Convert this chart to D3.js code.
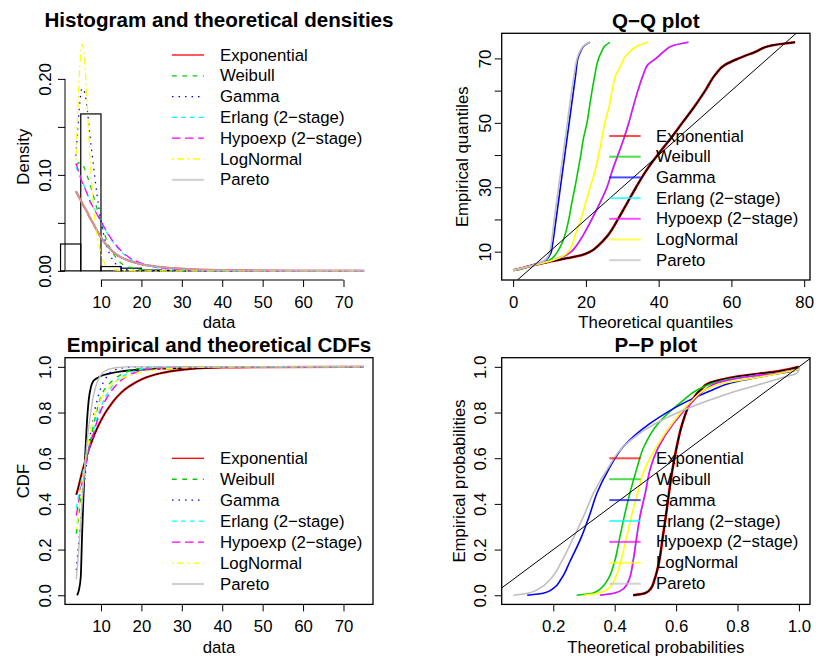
<!DOCTYPE html>
<html>
<head>
<meta charset="utf-8">
<script src="https://cdn.jsdelivr.net/npm/d3@7"></script>
<style>
body{margin:0;background:#fff}
</style>
</head>
<body>
<div id="chart"></div>
<script>
// distributions, in legend order
var names=["Exponential","Weibull","Gamma","Erlang (2\u2212stage)","Hypoexp (2\u2212stage)","LogNormal","Pareto"]
var colors=["#ff0000","#00cd00","#0000ff","#00ffff","#ff00ff","#ffff00","#bebebe"]
var dashes=[null,"4.7,5.6","1.5,5","4.8,4.1","8.5,4.5","2,3.3,7,3.3",null]

// histogram
var histBreaks=[0,5,10,15,20,25,30,35,40,45,50,55,60,65,70,75]
var histDens=[0.028,0.1635,0.0045,0.0028,0.0008,0.0004,0.0003,0.0002,0.0002,0.0001,0.0001,0.0001,0.0001,0.0001,0.0001]

// theoretical densities
var densX=[3.8,4.3,4.8,5.3,5.8,6.5,7.3,8,9,10,11,12,13.5,15,17,20,23,27,32,40,50,60,75]
var densExp=[0.083,0.079,0.075,0.071,0.067,0.062,0.055,0.05,0.042,0.035,0.029,0.024,0.018,0.014,0.0105,0.007,0.0048,0.003,0.0018,0.0009,0.0004,0.0002,0.0001]
var densWeib=[0.11,0.112,0.113,0.112,0.108,0.1,0.09,0.08,0.065,0.05,0.037,0.026,0.015,0.008,0.004,0.0012,0.0004,0.0001,0,0,0,0,0]
var densGamma=[0.12,0.15,0.177,0.19,0.188,0.172,0.14,0.115,0.08,0.052,0.032,0.019,0.008,0.003,0.001,0.0002,0,0,0,0,0,0,0]
var densErlang=[0.108,0.104,0.099,0.094,0.089,0.082,0.074,0.068,0.059,0.051,0.043,0.036,0.027,0.02,0.013,0.0075,0.004,0.0018,0.0006,0.0001,0,0,0]
var densHypo=[0.112,0.106,0.099,0.093,0.088,0.081,0.072,0.067,0.059,0.052,0.044,0.037,0.028,0.021,0.014,0.008,0.0043,0.002,0.0008,0.0002,0,0,0]
var densLnorm=[0.115,0.17,0.215,0.236,0.228,0.18,0.116,0.075,0.038,0.018,0.007,0.003,0.001,0.0005,0.0002,0.0001,0,0,0,0,0,0,0]
var densPareto=[0.083,0.079,0.075,0.071,0.067,0.062,0.055,0.05,0.042,0.035,0.029,0.024,0.018,0.014,0.0105,0.007,0.0048,0.003,0.0018,0.0009,0.0004,0.0002,0.0001]

// Q-Q: empirical quantiles and theoretical quantiles
var qqEmp=[4.2,5,6,7,8,9,10,12,15,20,25,30,35,40,45,50,55,60,65,68,70,72,74,75]
var qqExp=[0,3,6.2,10.5,15,19,21.2,23.5,26,28.8,31.3,33.8,36.5,39.7,43.2,46.5,49.8,52.8,55.6,58.2,62,66.5,71,77.5]
var qqWeib=[1,3.5,6.3,9.2,10.8,11.6,12.2,13.2,14.2,15.3,16.1,17,17.8,18.6,19.3,20.3,21,21.7,22.5,23,23.5,24.3,25.3,26.6]
var qqGamma=[0.5,3,6,8.5,9.5,10.1,10.5,10.8,11.2,11.8,12.4,13,13.6,14.2,14.8,15.4,16,16.6,17.2,17.5,17.8,18.5,19.6,21.1]
var qqErlang=[0,3,6.2,10,12.5,14.7,16,17.5,19.2,21.6,23.8,25.8,27.2,28.8,30.4,31.8,33,34.3,35.8,37,39.3,41.3,44,48.2]
var qqHypo=[0,3,6.2,10,12.5,14.7,16,17.5,19.2,21.6,23.8,25.8,27.2,28.8,30.4,31.8,33,34.3,35.8,37,39.3,41.3,44,48.2]
var qqLnorm=[0,3,6.3,10,12.5,14.2,15.2,16.2,17,18.6,19.9,21.2,22.5,23.5,24.4,25.2,26.4,27.2,28.3,29.7,30.5,32,34.5,37.1]
var qqPareto=[0.3,3,6,8.3,9.3,9.8,10.1,10.4,10.8,11.3,11.9,12.5,13.1,13.7,14.3,14.9,15.5,16.1,16.8,17.2,17.6,18.3,19.5,21.1]

// CDFs
var ecdfX=[4.1,4.5,5,5.3,5.6,6,6.5,7,7.5,8,9,10,12,15,20,25,30,40,75]
var ecdfY=[0,0.02,0.08,0.25,0.4,0.58,0.75,0.86,0.91,0.935,0.95,0.96,0.97,0.98,0.988,0.992,0.995,0.999,1]
var cdfX=[3.9,4.5,5,5.5,6,6.5,7,8,9,10,11,12,14,16,18,20,25,30,35,40,50,75]
var cdfExp=[0.44,0.479,0.516,0.55,0.581,0.61,0.638,0.687,0.729,0.765,0.797,0.824,0.869,0.902,0.926,0.945,0.973,0.987,0.994,0.997,0.999,1]
var cdfWeib=[0.27,0.35,0.42,0.48,0.54,0.59,0.64,0.73,0.81,0.87,0.905,0.925,0.955,0.975,0.988,0.994,0.999,1,1,1,1,1]
var cdfGamma=[0.11,0.23,0.32,0.42,0.51,0.59,0.66,0.77,0.85,0.91,0.945,0.97,0.99,0.997,1,1,1,1,1,1,1,1]
var cdfErlang=[0.38,0.44,0.49,0.535,0.575,0.615,0.65,0.715,0.775,0.825,0.865,0.895,0.94,0.965,0.98,0.99,0.998,1,1,1,1,1]
var cdfHypo=[0.35,0.41,0.46,0.51,0.555,0.595,0.635,0.7,0.76,0.81,0.85,0.88,0.925,0.955,0.972,0.983,0.995,0.999,1,1,1,1]
var cdfLnorm=[0.29,0.37,0.44,0.51,0.57,0.63,0.68,0.76,0.82,0.86,0.89,0.91,0.94,0.956,0.968,0.977,0.99,0.996,0.998,0.999,1,1]
var cdfPareto=[0.07,0.2,0.32,0.45,0.56,0.66,0.74,0.86,0.93,0.965,0.982,0.99,0.997,1,1,1,1,1,1,1,1,1]

// P-P: empirical probabilities and theoretical probabilities
var ppEmp=[0,0.01,0.03,0.07,0.15,0.25,0.35,0.45,0.55,0.65,0.75,0.85,0.9,0.93,0.95,0.96,0.97,0.98,0.99,1]
var ppExp=[0.46,0.5,0.518,0.53,0.545,0.556,0.567,0.577,0.588,0.602,0.62,0.65,0.68,0.71,0.77,0.81,0.87,0.93,0.97,1]
var ppWeib=[0.276,0.33,0.355,0.378,0.4,0.416,0.432,0.45,0.471,0.495,0.54,0.62,0.67,0.725,0.79,0.85,0.92,0.97,0.998,1]
var ppGamma=[0.115,0.17,0.2,0.225,0.255,0.29,0.318,0.343,0.38,0.428,0.513,0.637,0.72,0.78,0.85,0.89,0.93,0.97,0.998,1]
var ppErlang=[0.352,0.4,0.43,0.447,0.46,0.471,0.483,0.5,0.515,0.543,0.59,0.655,0.695,0.735,0.8,0.85,0.92,0.96,0.995,1]
var ppHypo=[0.352,0.4,0.43,0.447,0.46,0.471,0.483,0.5,0.515,0.543,0.59,0.655,0.695,0.735,0.8,0.85,0.92,0.96,0.995,1]
var ppLnorm=[0.3,0.35,0.38,0.4,0.42,0.438,0.455,0.475,0.497,0.536,0.586,0.65,0.695,0.76,0.85,0.89,0.93,0.965,0.998,1]
var ppPareto=[0.07,0.12,0.155,0.19,0.228,0.265,0.3,0.332,0.375,0.428,0.53,0.7,0.81,0.89,0.94,0.965,0.99,0.998,1,1]

var font='"Liberation Sans", Arial, Helvetica, sans-serif'
var fs=16.8
var tfs=20.6

var svg=d3.select("#chart").append("svg")
  .attr("width",819).attr("height",658)
  .style("font-family",font)

function zip(a,b){ return a.map(function(v,i){ return [v,b[i]] }) }

function bottomAxis(x,y0,vals,labs,withLine){
  var g=svg.append("g").attr("transform","translate(0,"+y0+")")
    .call(d3.axisBottom(x).tickValues(vals).tickSize(7).tickFormat(function(d,i){return labs[i]}))
  g.attr("font-size",fs).attr("font-family",font)
  g.select(".domain").remove()
  g.selectAll(".tick line").attr("stroke","#000")
  g.selectAll(".tick text").attr("y",22.5).attr("dy",null)
    .attr("dominant-baseline","central").attr("fill","#000")
  if(withLine){
    g.append("line").attr("x1",x(vals[0])).attr("x2",x(vals[vals.length-1]))
      .attr("stroke","#000")
  }
}

function leftAxis(y,x0,vals,labs,off,withLine){
  var g=svg.append("g").attr("transform","translate("+x0+",0)")
    .call(d3.axisLeft(y).tickValues(vals).tickSize(7).tickFormat(function(d,i){return labs[i]}))
  g.attr("font-size",fs).attr("font-family",font)
  g.select(".domain").remove()
  g.selectAll(".tick line").attr("stroke","#000")
  g.selectAll(".tick text").attr("x",null).attr("dy",null)
    .attr("transform","translate("+(-off)+",0) rotate(-90)")
    .attr("text-anchor","middle").attr("dominant-baseline","central").attr("fill","#000")
  if(withLine){
    g.append("line").attr("y1",y(vals[0])).attr("y2",y(vals[vals.length-1]))
      .attr("stroke","#000")
  }
}

function label(txt,x,y,size,bold,rot){
  var t=svg.append("text").attr("x",x).attr("y",y)
    .attr("text-anchor","middle").attr("dominant-baseline","central")
    .attr("font-size",size).text(txt)
  if(bold) t.attr("font-weight","bold")
  if(rot) t.attr("transform","rotate(-90,"+x+","+y+")")
}

function box(x0,y0,x1,y1){
  svg.append("rect").attr("x",x0).attr("y",y0).attr("width",x1-x0).attr("height",y1-y0)
    .attr("fill","none").attr("stroke","#000").attr("stroke-width",1.3)
}

function clip(id,x0,y0,x1,y1){
  svg.append("clipPath").attr("id",id).append("rect")
    .attr("x",x0).attr("y",y0).attr("width",x1-x0).attr("height",y1-y0)
}

function legend(lx1,lx2,tx,y0,step,styled){
  names.forEach(function(n,i){
    var y=y0+i*step
    var l=svg.append("line").attr("x1",lx1).attr("x2",lx2).attr("y1",y).attr("y2",y)
      .attr("stroke",colors[i])
    if(styled){
      l.attr("stroke-width",i==6?2:1.3)
      if(dashes[i]) l.attr("stroke-dasharray",dashes[i])
      if(i==6) l.attr("stroke","#cfcfcf")
    } else {
      l.attr("stroke-width",2).attr("stroke-opacity",0.7)
    }
    svg.append("text").attr("x",tx).attr("y",y).attr("dominant-baseline","central")
      .attr("font-size",fs).text(n)
  })
}

// exponential curves carry a thin black line on top of the red one
function expPath(parent,d,redW,blackW){
  parent.append("path").attr("d",d).attr("fill","none").attr("stroke","#ff0000").attr("stroke-width",redW)
  parent.append("path").attr("d",d).attr("fill","none").attr("stroke","#000").attr("stroke-width",blackW)
}

// ---------- panel 1: histogram and densities
var x1=d3.scaleLinear().domain([1.1,77.3]).range([65,373])
var y1=d3.scaleLinear().domain([-0.0095,0.2475]).range([280,33.3])

var bars=histDens.map(function(h,i){ return {a:histBreaks[i],b:histBreaks[i+1],h:h} })
svg.append("g").selectAll("rect").data(bars).enter().append("rect")
  .attr("x",function(d){return x1(d.a)})
  .attr("width",function(d){return x1(d.b)-x1(d.a)})
  .attr("y",function(d){return y1(d.h)})
  .attr("height",function(d){return y1(0)-y1(d.h)})
  .attr("fill","none").attr("stroke","#000").attr("stroke-width",1.2)

var densLine=d3.line().x(function(d){return x1(d[0])}).y(function(d){return y1(d[1])}).curve(d3.curveMonotoneX)
var densSets=[densExp,densWeib,densGamma,densErlang,densHypo,densLnorm,densPareto]
densSets.forEach(function(s,i){
  var p=svg.append("path").attr("d",densLine(zip(densX,s)))
    .attr("fill","none").attr("stroke",colors[i]).attr("stroke-width",i==0||i==6?2:1.25)
  if(dashes[i]) p.attr("stroke-dasharray",dashes[i])
  if(i==6) p.attr("stroke-opacity",0.8)
})

bottomAxis(x1,280,[10,20,30,40,50,60,70],["10","20","30","40","50","60","70"],true)
leftAxis(y1,65,[0,0.05,0.1,0.15,0.2],["0.00","","0.10","","0.20"],20,true)
label("Histogram and theoretical densities",219,19.5,tfs,true)
label("data",219,322,fs)
label("Density",23.3,156.7,fs,false,true)
legend(172,204,220,55,20.8,true)

// ---------- panel 2: Q-Q plot
var x2=d3.scaleLinear().domain([-3.14,81.6]).range([501.7,810])
var y2=d3.scaleLinear().domain([1.2,77.8]).range([280,33.3])
clip("c2",501.7,33.3,810,280)
var g2=svg.append("g").attr("clip-path","url(#c2)")
var qqLine=d3.line().x(function(d){return x2(d[0])}).y(function(d){return y2(d[1])}).curve(d3.curveMonotoneY)
var qqSets=[qqExp,qqWeib,qqGamma,qqErlang,qqHypo,qqLnorm,qqPareto]
qqSets.forEach(function(s,i){
  if(i==0){ expPath(g2,qqLine(zip(s,qqEmp)),2.6,1.5); return }
  g2.append("path").attr("d",qqLine(zip(s,qqEmp)))
    .attr("fill","none").attr("stroke",colors[i]).attr("stroke-width",1.6)
})
g2.append("line").attr("x1",x2(-5)).attr("y1",y2(-5)).attr("x2",x2(90)).attr("y2",y2(90))
  .attr("stroke","#000").attr("stroke-width",1)
box(501.7,33.3,810,280)
bottomAxis(x2,280,[0,20,40,60,80],["0","20","40","60","80"],false)
leftAxis(y2,501.7,[10,20,30,40,50,60,70],["10","","30","","50","","70"],16,false)
label("Q\u2212Q plot",655.8,20,tfs,true)
label("Theoretical quantiles",655.8,322,fs)
label("Empirical quantiles",463,156.7,fs,false,true)
legend(609.3,640.7,656,136,20.7,false)

// ---------- panel 3: CDFs
var x3=d3.scaleLinear().domain([1.1,77.3]).range([65,373])
var y3=d3.scaleLinear().domain([-0.04,1.04]).range([604.4,357.7])
var cdfLine=d3.line().x(function(d){return x3(d[0])}).y(function(d){return y3(d[1])}).curve(d3.curveMonotoneX)
svg.append("path").attr("d",cdfLine(zip(ecdfX,ecdfY)))
  .attr("fill","none").attr("stroke","#000").attr("stroke-width",1.8)
var cdfSets=[cdfExp,cdfWeib,cdfGamma,cdfErlang,cdfHypo,cdfLnorm,cdfPareto]
cdfSets.forEach(function(s,i){
  if(i==0){ expPath(svg,cdfLine(zip(cdfX,s)),2.2,1); return }
  var p=svg.append("path").attr("d",cdfLine(zip(cdfX,s)))
    .attr("fill","none").attr("stroke",colors[i]).attr("stroke-width",1.4)
  if(dashes[i]) p.attr("stroke-dasharray",dashes[i])
})
box(65,357.7,373,604.4)
bottomAxis(x3,604.4,[10,20,30,40,50,60,70],["10","20","30","40","50","60","70"],false)
leftAxis(y3,65,[0,0.2,0.4,0.6,0.8,1],["0.0","0.2","0.4","0.6","0.8","1.0"],20,false)
label("Empirical and theoretical CDFs",219,344.5,tfs,true)
label("data",219,647.5,fs)
label("CDF",23.3,481,fs,false,true)
legend(172,204,220,458.3,20.95,true)

// ---------- panel 4: P-P plot
var x4=d3.scaleLinear().domain([0.032,1.036]).range([501.7,810])
var y4=d3.scaleLinear().domain([-0.04,1.04]).range([604.4,357.7])
clip("c4",501.7,357.7,810,604.4)
var g4=svg.append("g").attr("clip-path","url(#c4)")
var ppLine=d3.line().x(function(d){return x4(d[0])}).y(function(d){return y4(d[1])}).curve(d3.curveMonotoneY)
var ppSets=[ppExp,ppWeib,ppGamma,ppErlang,ppHypo,ppLnorm,ppPareto]
ppSets.forEach(function(s,i){
  if(i==0){ expPath(g4,ppLine(zip(s,ppEmp)),2.6,1.5); return }
  g4.append("path").attr("d",ppLine(zip(s,ppEmp)))
    .attr("fill","none").attr("stroke",colors[i]).attr("stroke-width",1.6)
})
g4.append("line").attr("x1",x4(-0.1)).attr("y1",y4(-0.1)).attr("x2",x4(1.2)).attr("y2",y4(1.2))
  .attr("stroke","#000").attr("stroke-width",1)
box(501.7,357.7,810,604.4)
bottomAxis(x4,604.4,[0.2,0.4,0.6,0.8,1],["0.2","0.4","0.6","0.8","1.0"],false)
leftAxis(y4,501.7,[0,0.2,0.4,0.6,0.8,1],["0.0","0.2","0.4","0.6","0.8","1.0"],21,false)
label("P\u2212P plot",655.8,344.5,tfs,true)
label("Theoretical probabilities",655.8,647,fs)
label("Empirical probabilities",459,481,fs,false,true)
legend(609.3,640.7,656,458.3,20.9,false)
</script>
</body>
</html>
